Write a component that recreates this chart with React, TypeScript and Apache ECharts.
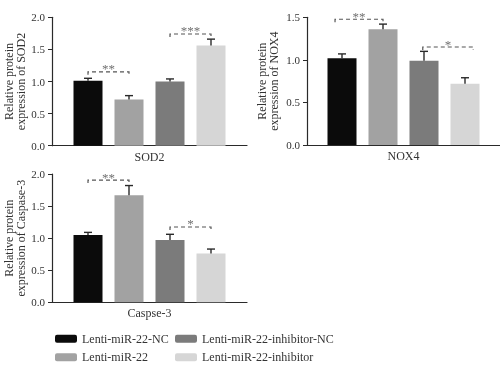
import React, { useEffect, useRef } from "react";
import * as echarts from "echarts";

const SERIES_NAMES = [
  "Lenti-miR-22-NC",
  "Lenti-miR-22",
  "Lenti-miR-22-inhibitor-NC",
  "Lenti-miR-22-inhibitor",
];
const COLORS = ["#0b0b0b", "#a2a2a6", "#7a7b7a", "#d6d6d6"];
const PANEL_LABELS = ["SOD2", "NOX4", "Caspse-3"];
const Y_NAMES = [
  "Relative protein\nexpression of SOD2",
  "Relative protein\nexpression of NOX4",
  "Relative protein\nexpression of Caspase-3",
];
const Y_MAX = [2, 1.5, 2];

const SOD2_MEAN = [1.01, 0.72, 1.0, 1.56];
const SOD2_TOP = [1.05, 0.78, 1.04, 1.66];
const NOX4_MEAN = [1.02, 1.36, 0.99, 0.72];
const NOX4_TOP = [1.07, 1.42, 1.1, 0.79];
const CASP_MEAN = [1.05, 1.67, 0.97, 0.76];
const CASP_TOP = [1.09, 1.82, 1.06, 0.83];

// [fromBar, toBar, y, label]
const SOD2_SIG = [
  [0, 1, 1.15, "**"],
  [2, 3, 1.74, "***"],
];
const NOX4_SIG = [
  [-0.17, 1.0, 1.477, "**"],
  [1.97, 3.2, 1.151, "*"],
];
const CASP_SIG = [
  [0, 1, 1.906, "**"],
  [2, 3, 1.174, "*"],
];

const MEANS = [SOD2_MEAN, NOX4_MEAN, CASP_MEAN];
const TOPS = [SOD2_TOP, NOX4_TOP, CASP_TOP];
const SIGS = [SOD2_SIG, NOX4_SIG, CASP_SIG];

const BAR_W = 29;
const BAR_GAP = 12;
const FONT = "Liberation Serif";

const GRIDS = [
  { left: 52, top: 17.3, width: 195, height: 128.4 },
  { left: 307, top: 17.3, width: 193, height: 127.7 },
  { left: 52, top: 174, width: 195, height: 128.3 },
];
const NAME_GAPS = [24, 27, 24];
const LEGEND_POS = [
  { left: 55, top: 332.7 },
  { left: 55, top: 351.3 },
  { left: 175, top: 332.7 },
  { left: 175, top: 351.3 },
];

function barX(api: any, idx: number) {
  const c = api.coord([0, 0]);
  return c[0] + (idx - 1.5) * (BAR_W + BAR_GAP);
}

export default function App() {
  const ref = useRef<HTMLDivElement>(null);
  useEffect(() => {
    if (!ref.current) return;
    const chart = echarts.init(ref.current, undefined, { renderer: "svg" });
    const series: any[] = [];
    PANEL_LABELS.forEach((_, p) => {
      SERIES_NAMES.forEach((name, i) => {
        series.push({
          type: "bar",
          name,
          xAxisIndex: p,
          yAxisIndex: p,
          barWidth: BAR_W,
          barGap: (BAR_GAP / BAR_W) * 100 + "%",
          itemStyle: { color: COLORS[i] },
          data: [MEANS[p][i]],
        });
      });
      series.push({
        type: "custom",
        xAxisIndex: p,
        yAxisIndex: p,
        encode: { x: 0, y: 1 },
        itemStyle: { color: "#2a2a2a" },
        data: TOPS[p].map((t, i) => [0, t, i, MEANS[p][i]]),
        renderItem: (params: any, api: any) => {
          const idx = api.value(2);
          const x = barX(api, idx);
          const yTop = api.coord([0, api.value(1)])[1];
          const yBase = api.coord([0, api.value(3)])[1];
          const st = { stroke: "#2a2a2a", lineWidth: 1.4 };
          return {
            type: "group",
            children: [
              { type: "line", shape: { x1: x, y1: yBase, x2: x, y2: yTop }, style: st },
              { type: "line", shape: { x1: x - 4, y1: yTop, x2: x + 4, y2: yTop }, style: st },
            ],
          };
        },
        z: 3,
      });
      series.push({
        type: "custom",
        xAxisIndex: p,
        yAxisIndex: p,
        encode: { x: 0, y: 1 },
        itemStyle: { color: "#666" },
        data: SIGS[p].map((s) => [0, s[2], s[0], s[1]]),
        renderItem: (params: any, api: any) => {
          const s = SIGS[p][params.dataIndex];
          const x1 = barX(api, s[0] as number);
          const x2 = barX(api, s[1] as number);
          const y = api.coord([0, s[2] as number])[1];
          return {
            type: "group",
            children: [
              {
                type: "polyline",
                shape: { points: [[x1, y + 3], [x1, y], [x2, y], [x2, y + 3]] },
                style: { stroke: "#555", lineWidth: 1.2, lineDash: [4, 3], fill: "none" },
              },
              {
                type: "text",
                x: (x1 + x2) / 2,
                y: y - 3,
                style: {
                  text: s[3] as string,
                  fill: "#707070",
                  fontSize: 13,
                  fontFamily: FONT,
                  align: "center",
                  verticalAlign: "middle",
                },
              },
            ],
          };
        },
        z: 4,
      });
    });

    chart.setOption({
      animation: false,
      textStyle: { fontFamily: FONT },
      grid: GRIDS.map((g) => ({ ...g, containLabel: false })),
      xAxis: PANEL_LABELS.map((lab, p) => ({
        type: "category",
        gridIndex: p,
        data: [lab],
        axisTick: { show: false },
        axisLine: { lineStyle: { color: "#2a2a2a", width: 1.2 } },
        axisLabel: { color: "#333", fontSize: 12, margin: 5, fontFamily: FONT },
      })),
      yAxis: PANEL_LABELS.map((_, p) => ({
        type: "value",
        gridIndex: p,
        min: 0,
        max: Y_MAX[p],
        interval: 0.5,
        name: Y_NAMES[p],
        nameLocation: "middle",
        nameGap: NAME_GAPS[p],
        nameTextStyle: { color: "#333", fontSize: 12, lineHeight: 12, fontFamily: FONT },
        splitLine: { show: false },
        axisLine: { show: true, lineStyle: { color: "#2a2a2a", width: 1.2 } },
        axisTick: { show: true, length: 4, lineStyle: { color: "#2a2a2a" } },
        axisLabel: {
          color: "#333",
          fontSize: 11,
          margin: 7,
          fontFamily: FONT,
          formatter: (v: number) => v.toFixed(1),
        },
      })),
      legend: SERIES_NAMES.map((name, i) => ({
        left: LEGEND_POS[i].left,
        top: LEGEND_POS[i].top,
        padding: 0,
        orient: "horizontal",
        data: [name],
        itemWidth: 22,
        itemHeight: 8,
        itemTextGap: 10,
        icon: "roundRect",
        textStyle: { color: "#333", fontSize: 12, lineHeight: 12, fontFamily: FONT },
        selectedMode: false,
      })),
      series,
    });
    return () => chart.dispose();
  }, []);
  return (
    <div
      ref={ref}
      style={{ width: 500, height: 365, position: "absolute", left: 0, top: 0, filter: "grayscale(1)" }}
    />
  );
}
